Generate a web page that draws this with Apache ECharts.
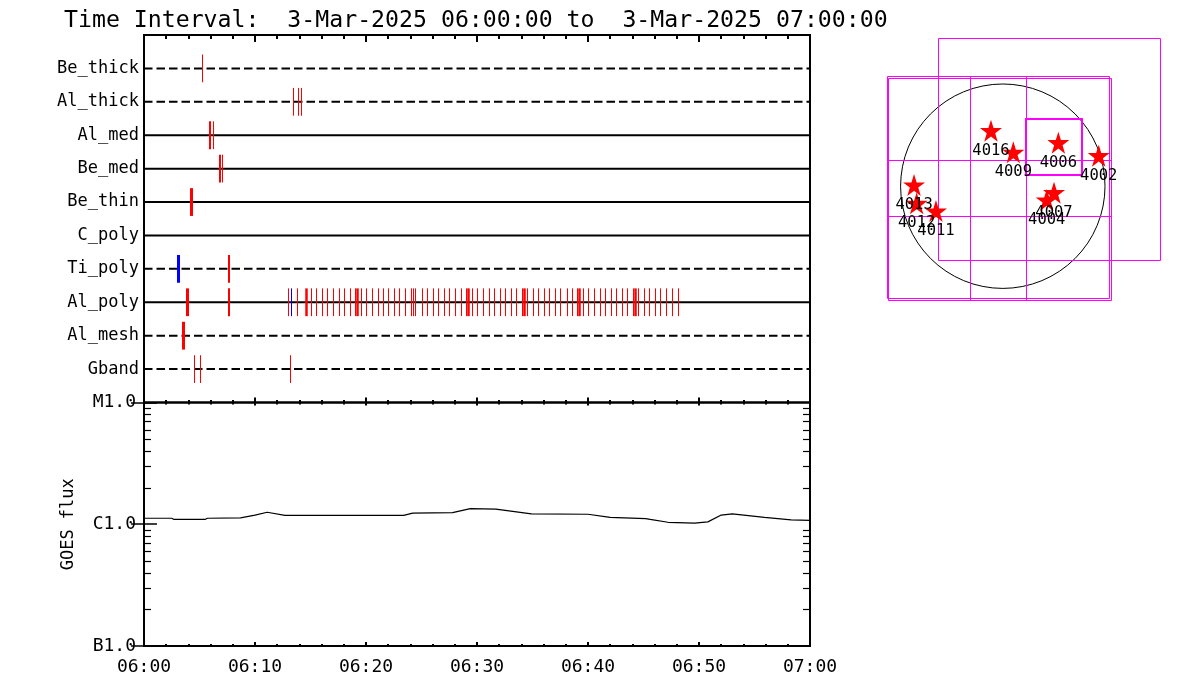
<!DOCTYPE html>
<html><head><meta charset="utf-8">
<script src="https://cdn.jsdelivr.net/npm/echarts@6/dist/echarts.min.js"></script>
<style>html,body{margin:0;padding:0;background:#fff}#c{width:1200px;height:700px}</style>
</head><body><div id="c"></div>
<script>
// ---------- data ----------
const titleText = 'Time Interval:  3-Mar-2025 06:00:00 to  3-Mar-2025 07:00:00';
const rowNames = ['Be_thick','Al_thick','Al_med','Be_med','Be_thin','C_poly','Ti_poly','Al_poly','Al_mesh','Gband'];
const rowDashed = [true, true, false, false, false, false, true, false, true, true];
const timeTickLabels = ['06:00','06:10','06:20','06:30','06:40','06:50','07:00'];

// events: [minutes after 06:00, line width]
const evBeThick = [[5.23,1]];
const evAlThick = [[13.43,1],[13.88,1],[14.15,1]];
const evAlMed   = [[5.98,2],[6.22,1]];
const evBeMed   = [[6.89,2],[7.09,1]];
const evBeThin  = [[4.24,3]];
const evCPoly   = [];
const evTiPoly  = [[7.70,2]];
const evAlPoly  = [[3.88,3],[7.70,2],[12.98,1],[13.79,1],[14.64,2.5],[15.05,1],[15.54,1],[16.04,1],[16.53,1],[17.03,1],[17.58,1],[18.06,1],[18.57,1],[19.05,1],[19.23,2.5],[19.56,1],[20.04,1],[20.55,1],[21.09,1],[21.54,1],[22.05,1],[22.53,1],[23.05,1],[23.52,1],[24.06,1],[24.25,1],[24.49,1],[25.06,1],[25.57,1],[26.05,1],[26.53,1],[27.04,1],[27.55,1],[28.06,1],[28.57,1],[29.06,1],[29.27,2.5],[29.56,1],[30.05,1],[30.55,1],[31.10,1],[31.55,1],[32.09,1],[32.57,1],[33.08,1],[33.56,1],[34.11,1],[34.31,2.5],[34.56,1],[35.06,1],[35.57,1],[36.05,1],[36.57,1],[37.04,1],[37.56,1],[38.12,1],[38.61,1],[39.06,1],[39.24,2.5],[39.57,1],[40.08,1],[40.59,1],[41.10,1],[41.61,1],[42.09,1],[42.61,1],[43.08,1],[43.60,1],[44.07,1],[44.25,2.5],[44.52,1],[45.07,1],[45.58,1],[46.05,1],[46.57,1],[47.08,1],[47.59,1],[48.13,1]];
const evAlMesh  = [[3.52,3]];
const evGband   = [[4.51,1],[5.05,1],[13.16,1]];
const evTiPolyBlue = [[3.15,3]];
const evAlPolyBlue = [[13.27,1]];

// GOES flux (minutes after 06:00, W/m^2)
const goesTime = [0, 2.5, 2.7, 5.5, 5.7, 8.7, 10.0, 11.1, 12.7, 23.4, 24.2, 27.8, 29.4, 31.7, 34.9, 40.0, 42.0, 45.2, 45.6, 47.2, 49.6, 50.8, 52.0, 53.0, 55.9, 58.3, 60];
const goesFlux = [1.120e-6, 1.120e-6, 1.095e-6, 1.095e-6, 1.120e-6, 1.128e-6, 1.190e-6, 1.254e-6, 1.181e-6, 1.181e-6, 1.235e-6, 1.245e-6, 1.342e-6, 1.332e-6, 1.217e-6, 1.208e-6, 1.137e-6, 1.111e-6, 1.095e-6, 1.038e-6, 1.023e-6, 1.046e-6, 1.190e-6, 1.217e-6, 1.137e-6, 1.086e-6, 1.078e-6];
const goesClassLabels = ['B1.0','C1.0','M1.0'];   // 1e-7, 1e-6, 1e-5
const goesMinorTicks = [2e-7,3e-7,4e-7,5e-7,6e-7,7e-7,8e-7,9e-7,2e-6,3e-6,4e-6,5e-6,6e-6,7e-6,8e-6,9e-6];

// Solar map (arcsec)
const solarRadius = 942;
// boxes: [centerX, centerY, size]
const fovBoxes = [[-41,-15,2048],[-25,-31,2048],[429,341,2048]];
const smallBoxes = [[473,360,512]];
// grid segments: [x1,y1,x2,y2]
const fovGridLines = [[-302,-1055,-302,1009],[214,-1055,214,1009],[-1065,241,999,241],[-1065,-275,999,-275]];
const arNames = ['4016','4009','4006','4002','4007','4004','4013','4012','4011'];
const arX = [-109, 97, 512, 884, 472, 405, -818, -794, -616];
const arY = [512, 312, 401, 281, -60, -127, 11, -158, -229];

// ---------- chart ----------
const FONT = 'DejaVu Sans Mono';
const chart = echarts.init(document.getElementById('c'));

const evRows = [evBeThick, evAlThick, evAlMed, evBeMed, evBeThin, evCPoly, evTiPoly, evAlPoly, evAlMesh, evGband];
const evData = [];
evRows.forEach((arr, i) => arr.forEach(e => evData.push([e[0], i + 1, e[1], 0])));
evTiPolyBlue.forEach(e => evData.push([e[0], 7, e[1], 1]));
evAlPolyBlue.forEach(e => evData.push([e[0], 8, e[1], 1]));
const evColors = ['#ff0000', '#0000ff'];
const evHalf = 0.416;

const rowSeries = rowNames.map((n, i) => ({
  type: 'line', xAxisIndex: 0, yAxisIndex: 0, silent: true, symbol: 'none',
  data: [[0, i + 1], [60, i + 1]],
  lineStyle: { color: '#000', width: 2, type: rowDashed[i] ? [8.5, 4] : 'solid' },
  z: 2
}));

function crisp(x, w) { return (Math.round(w) % 2 === 1) ? Math.round(x - 0.5) + 0.5 : Math.round(x); }

const starPath = 'path://M50,0 L61.2,35.5 L98,35.5 L68.4,57.5 L79.4,93 L50,71 L20.6,93 L31.6,57.5 L2,35.5 L38.8,35.5 Z';

const tickStyle = { color: '#000', width: 2 };
const option = {
  animation: false,
  backgroundColor: '#fff',
  title: {
    text: titleText, left: 59, top: 4,
    textStyle: { fontFamily: FONT, fontSize: 23.2, fontWeight: 'normal', color: '#000' }
  },
  grid: [
    { left: 144, top: 35, width: 666, height: 367.5, show: true, borderColor: '#000', borderWidth: 2, backgroundColor: 'transparent' },
    { left: 144, top: 402.5, width: 666, height: 243.5, show: true, borderColor: '#000', borderWidth: 2, backgroundColor: 'transparent' },
    { left: 872.6, top: 23.45, width: 303.8, height: 292.95, show: false }
  ],
  xAxis: [
    { gridIndex: 0, type: 'value', position: 'top', min: 0, max: 60, interval: 10,
      axisLine: { show: false }, axisLabel: { show: false }, splitLine: { show: false },
      axisTick: { inside: true, length: 7, lineStyle: tickStyle },
      minorTick: { show: true, splitNumber: 5, length: 4, lineStyle: tickStyle } },
    { gridIndex: 0, type: 'value', position: 'bottom', min: 0, max: 60, interval: 10,
      axisLine: { show: false }, axisLabel: { show: false }, splitLine: { show: false },
      axisTick: { inside: true, length: 5, lineStyle: tickStyle },
      minorTick: { show: true, splitNumber: 5, length: 2.5, lineStyle: tickStyle } },
    { gridIndex: 1, type: 'value', position: 'top', min: 0, max: 60, interval: 10,
      axisLine: { show: false }, axisLabel: { show: false }, splitLine: { show: false },
      axisTick: { inside: true, length: 3, lineStyle: tickStyle },
      minorTick: { show: true, splitNumber: 5, length: 2, lineStyle: tickStyle } },
    { gridIndex: 1, type: 'value', position: 'bottom', min: 0, max: 60, interval: 10,
      axisLine: { show: false }, splitLine: { show: false },
      axisTick: { inside: true, length: 4, lineStyle: tickStyle },
      minorTick: { show: true, splitNumber: 5, length: 2, lineStyle: tickStyle },
      axisLabel: { formatter: v => timeTickLabels[Math.round(v / 10)], color: '#000', fontFamily: FONT, fontSize: 18, margin: 12 } },
    { gridIndex: 2, type: 'value', min: -1200, max: 1600, show: false }
  ],
  yAxis: [
    { gridIndex: 0, type: 'value', min: 0, max: 11, interval: 1, inverse: true,
      axisLine: { show: false }, axisTick: { show: false }, splitLine: { show: false },
      axisLabel: { formatter: v => rowNames[v - 1] || '', color: '#000', fontFamily: FONT, fontSize: 17, margin: 5 } },
    { gridIndex: 1, type: 'log', logBase: 10, min: 1e-7, max: 1e-5, position: 'left',
      name: 'GOES flux', nameLocation: 'middle', nameGap: 67,
      nameTextStyle: { color: '#000', fontFamily: FONT, fontSize: 17 },
      axisLine: { show: false }, splitLine: { show: false },
      axisTick: { inside: true, length: 13, lineStyle: { color: '#000', width: 1.5 } },
      axisLabel: { formatter: v => goesClassLabels[Math.round(Math.log10(v)) + 7] || '', color: '#000', fontFamily: FONT, fontSize: 18, margin: 8 } },
    { gridIndex: 1, type: 'log', logBase: 10, min: 1e-7, max: 1e-5, position: 'right',
      axisLine: { show: false }, splitLine: { show: false }, axisLabel: { show: false },
      axisTick: { inside: true, length: 13, lineStyle: { color: '#000', width: 1.5 } } },
    { gridIndex: 2, type: 'value', min: -1200, max: 1500, show: false }
  ],
  series: [
    ...rowSeries,
    { type: 'custom', xAxisIndex: 0, yAxisIndex: 0, silent: true, z: 5,
      data: evData, encode: { x: 0, y: 1 },
      renderItem: (params, api) => {
        const m = api.value(0), r = api.value(1), w = api.value(2), c = api.value(3);
        const p1 = api.coord([m, r - evHalf]), p2 = api.coord([m, r + evHalf]);
        const x = crisp(p1[0], w);
        return { type: 'line', shape: { x1: x, y1: p1[1], x2: x, y2: p2[1] },
                 style: { stroke: evColors[c], lineWidth: w } };
      } },
    { type: 'line', xAxisIndex: 3, yAxisIndex: 1, silent: true, symbol: 'none',
      data: goesTime.map((t, i) => [t, goesFlux[i]]),
      lineStyle: { color: '#000', width: 1.2 } },
    { type: 'custom', xAxisIndex: 3, yAxisIndex: 1, silent: true,
      data: goesMinorTicks.map(v => [0, v]), encode: { x: 0, y: 1 },
      renderItem: (params, api) => {
        const v = api.value(1);
        const pl = api.coord([0, v]), pr = api.coord([60, v]);
        const y = Math.round(pl[1]) + 0.5;
        return { type: 'group', children: [
          { type: 'line', shape: { x1: pl[0], y1: y, x2: pl[0] + 7, y2: y }, style: { stroke: '#000', lineWidth: 1.2 } },
          { type: 'line', shape: { x1: pr[0] - 7, y1: y, x2: pr[0], y2: y }, style: { stroke: '#000', lineWidth: 1.2 } }
        ] };
      } },
    // solar disk
    { type: 'custom', xAxisIndex: 4, yAxisIndex: 3, silent: true, clip: false,
      data: [[0, 0, solarRadius]], encode: { x: 0, y: 1 },
      renderItem: (params, api) => {
        const c = api.coord([api.value(0), api.value(1)]);
        const r = api.size([api.value(2), 0])[0];
        return { type: 'circle', shape: { cx: c[0], cy: c[1], r: r }, style: { stroke: '#000', fill: null, lineWidth: 1 } };
      } },
    // FOV boxes
    { type: 'custom', xAxisIndex: 4, yAxisIndex: 3, silent: true, clip: false,
      data: fovBoxes.map(b => [b[0], b[1], b[2], 1]).concat(smallBoxes.map(b => [b[0], b[1], b[2], 2])), encode: { x: 0, y: 1 },
      renderItem: (params, api) => {
        const cx = api.value(0), cy = api.value(1), s = api.value(2), lw = api.value(3);
        const p1 = api.coord([cx - s / 2, cy + s / 2]), p2 = api.coord([cx + s / 2, cy - s / 2]);
        const x1 = crisp(p1[0], lw), y1 = crisp(p1[1], lw), x2 = crisp(p2[0], lw), y2 = crisp(p2[1], lw);
        return { type: 'rect', shape: { x: x1, y: y1, width: x2 - x1, height: y2 - y1 }, style: { stroke: '#ff00ff', fill: null, lineWidth: lw } };
      } },
    { type: 'custom', xAxisIndex: 4, yAxisIndex: 3, silent: true, clip: false,
      data: fovGridLines, encode: { x: 0, y: 1 },
      renderItem: (params, api) => {
        const p1 = api.coord([api.value(0), api.value(1)]), p2 = api.coord([api.value(2), api.value(3)]);
        return { type: 'line', shape: { x1: crisp(p1[0], 1), y1: crisp(p1[1], 1), x2: crisp(p2[0], 1), y2: crisp(p2[1], 1) }, style: { stroke: '#ff00ff', lineWidth: 1 } };
      } },
    // active regions
    { type: 'scatter', xAxisIndex: 4, yAxisIndex: 3, silent: true, z: 10,
      symbol: starPath, symbolSize: 22,
      itemStyle: { color: '#ff0000', opacity: 1 },
      data: arNames.map((n, i) => ({ name: n, value: [arX[i], arY[i]] })),
      label: { show: true, position: 'bottom', distance: 1, formatter: p => p.name, color: '#000', fontFamily: FONT, fontSize: 15.5 } }
  ]
};
chart.setOption(option);
</script>
</body></html>
